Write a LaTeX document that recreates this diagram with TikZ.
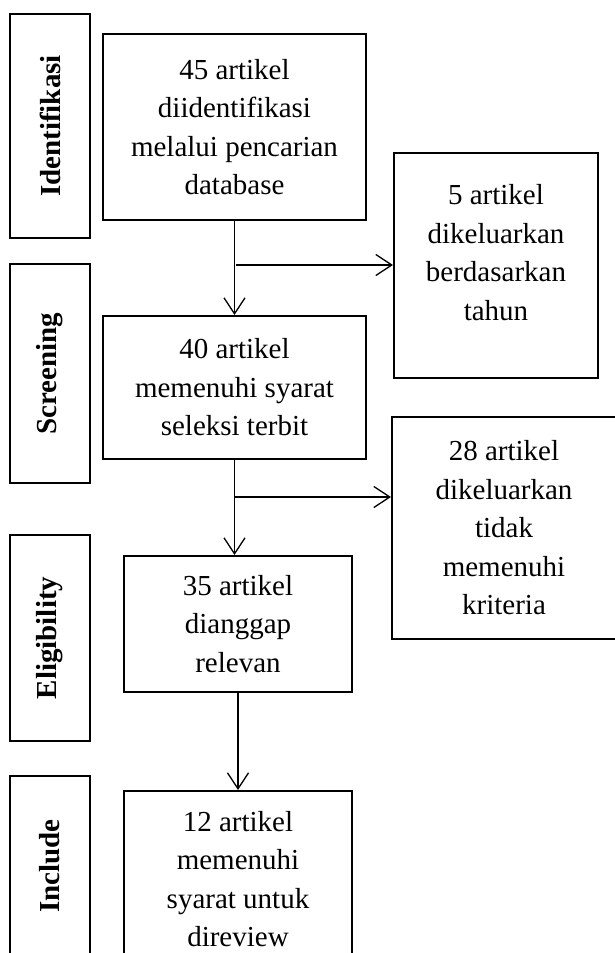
\documentclass[tikz,border=0pt]{standalone}
\usepackage{fontspec}
\setmainfont{Liberation Serif}
\usetikzlibrary{arrows.meta}
\begin{document}
\begin{tikzpicture}[x=1pt,y=-1pt,
  box/.style={draw, line width=2pt, inner sep=0pt, align=center,
    font=\fontsize{29}{38.5}\selectfont},
  txt/.style={align=center, inner sep=0pt, font=\fontsize{29}{38.5}\selectfont},
  phase/.style={draw, line width=2pt, inner sep=0pt, minimum width=80pt},
  lab/.style={rotate=90, inner sep=0pt, font=\fontsize{29}{34}\selectfont\bfseries},
  arr/.style={line width=1.3pt, -{Straight Barb[length=16pt,width=21pt,line width=1.3pt]}}
]
\useasboundingbox (0,0) rectangle (615,953);
\clip (0,0) rectangle (615,953);

% phase label boxes
\node[phase, minimum height=224pt] (p1) at (50,126) {};
\node[lab] at (p1.center) {Identifikasi};
\node[phase, minimum height=219pt] (p2) at (50,373.5) {};
\node[lab] at (p2.center) {Screening};
\node[phase, minimum height=206pt] (p3) at (50,638) {};
\node[lab] at (p3.center) {Eligibility};
\node[phase, minimum height=180pt] (p4) at (50,866) {};
\node[lab] at (p4.center) {Include};

% main boxes
\node[box, minimum width=263pt, minimum height=186pt] (b1) at (234.5,127)
  {45 artikel\\diidentifikasi\\melalui pencarian\\database};
\node[box, minimum width=263pt, minimum height=143pt] (b2) at (234.5,387.5)
  {40 artikel\\memenuhi syarat\\seleksi terbit};
\node[box, minimum width=228pt, minimum height=136pt] (b3) at (238,624)
  {35 artikel\\dianggap\\relevan};
\node[box, minimum width=228pt, minimum height=176pt] (b4) at (238,879)
  {12 artikel\\memenuhi\\syarat untuk\\direview};

% side boxes
\node[box, minimum width=204pt, minimum height=225pt] (s1) at (496,265.5) {};
\node[txt] (t1) at ([yshift=13pt]s1.center)
  {5 artikel\\dikeluarkan\\berdasarkan\\tahun};
\node[box, minimum width=224pt, minimum height=222pt] (s2) at (504,528)
  {28 artikel\\dikeluarkan\\tidak\\memenuhi\\kriteria};

% connectors
\draw[arr] (b1.south) -- (b2.north);
\coordinate (j1) at (236,265);
\draw[arr] (j1) -- (s1.west |- j1);
\draw[arr] (b2.south) -- (b2.south |- b3.north);
\coordinate (j2) at (235,497);
\draw[arr] (j2) -- (s2.west |- j2);
\draw[arr] (b3.south) -- (b4.north);
\end{tikzpicture}
\end{document}
